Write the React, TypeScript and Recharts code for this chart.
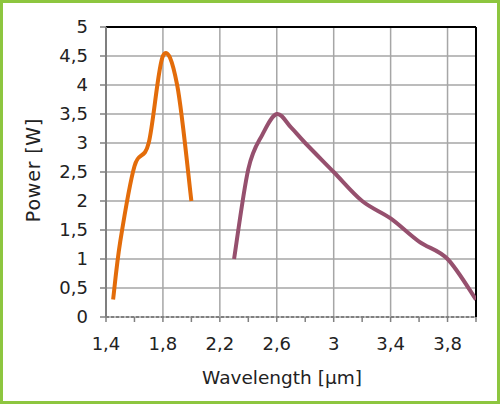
import React from 'react';
import { LineChart, Line, XAxis, YAxis, CartesianGrid, ReferenceLine } from 'recharts';

const orangeX = [1.45, 1.5, 1.6, 1.7, 1.8, 1.9, 2.0];
const orangeY = [0.3, 1.3, 2.6, 3.0, 4.5, 4.0, 2.0];
const purpleX = [2.3, 2.4, 2.5, 2.6, 2.7, 2.8, 3.0, 3.2, 3.4, 3.6, 3.8, 4.0];
const purpleY = [1.0, 2.55, 3.15, 3.5, 3.27, 3.0, 2.5, 2.0, 1.7, 1.3, 1.0, 0.3];
const xTicks = [1.4, 1.6, 1.8, 2.0, 2.2, 2.4, 2.6, 2.8, 3.0, 3.2, 3.4, 3.6, 3.8, 4.0];
const xLabelTicks = [1.4, 1.8, 2.2, 2.6, 3.0, 3.4, 3.8];
const yTicks = [0, 0.5, 1, 1.5, 2, 2.5, 3, 3.5, 4, 4.5, 5];

const orangeData = orangeX.map((x, i) => ({ x, y: orangeY[i] }));
const purpleData = purpleX.map((x, i) => ({ x, y: purpleY[i] }));

const FONT = 'DejaVu Sans';
const fmt = (v: number) => String(Math.round(v * 10) / 10).replace('.', ',');

// Excel-like smoothed line (uniform Catmull-Rom as cubic Bezier segments)
const smoothCurve = (context: any) => {
  let pts: number[][] = [];
  return {
    areaStart() {},
    areaEnd() {},
    lineStart() {
      pts = [];
    },
    point(x: number, y: number) {
      pts.push([+x, +y]);
    },
    lineEnd() {
      if (!pts.length) return;
      context.moveTo(pts[0][0], pts[0][1]);
      for (let i = 0; i < pts.length - 1; i++) {
        const p0 = pts[i - 1] || pts[i];
        const p1 = pts[i];
        const p2 = pts[i + 1];
        const p3 = pts[i + 2] || p2;
        context.bezierCurveTo(
          p1[0] + (p2[0] - p0[0]) / 6,
          p1[1] + (p2[1] - p0[1]) / 6,
          p2[0] - (p3[0] - p1[0]) / 6,
          p2[1] - (p3[1] - p1[1]) / 6,
          p2[0],
          p2[1]
        );
      }
    },
  };
};

const XTick = (props: any) => {
  const { x, y, payload } = props;
  const v = payload.value;
  if (!xLabelTicks.some((t) => Math.abs(t - v) < 1e-6)) return null;
  return (
    <text x={x} y={y} dy="0.71em" textAnchor="middle" fontFamily={FONT} fontSize={18} fill="#222">
      {fmt(v)}
    </text>
  );
};

const YTick = (props: any) => {
  const { x, y, payload } = props;
  return (
    <text x={x} y={y} dy="0.355em" textAnchor="end" fontFamily={FONT} fontSize={18} fill="#222">
      {fmt(payload.value)}
    </text>
  );
};

export default function App() {
  return (
    <div style={{ position: 'absolute', left: 0, top: 0, width: 500, height: 404, background: '#fff' }}>
      <div
        style={{
          position: 'absolute',
          left: 0,
          top: 0,
          width: 500,
          height: 404,
          boxSizing: 'border-box',
          border: '3px solid #8DC63F',
        }}
      />
      <div style={{ position: 'absolute', left: 0, top: 0 }}>
        <LineChart width={500} height={404} margin={{ top: 27, right: 24, bottom: 0, left: 0 }}>
          <CartesianGrid
            stroke="#a6a6a6"
            strokeWidth={1.5}
            verticalCoordinatesGenerator={({ offset }: any) =>
              xLabelTicks.map((v) => offset.left + ((v - 1.4) / 2.6) * offset.width)
            }
          />
          <XAxis
            type="number"
            dataKey="x"
            domain={[1.4, 4.0]}
            ticks={xTicks}
            interval={0}
            height={87}
            allowDataOverflow
            tick={<XTick />}
            tickSize={5}
            tickMargin={15}
            tickLine={{ stroke: '#808080', strokeWidth: 1.5 }}
            axisLine={{ stroke: '#808080', strokeWidth: 2, strokeDasharray: '3 2' }}
            label={{
              value: 'Wavelength [µm]',
              position: 'insideBottom',
              offset: 20,
              dx: -9,
              fontFamily: FONT,
              fontSize: 18.5,
              fill: '#222',
            }}
          />
          <YAxis
            type="number"
            dataKey="y"
            domain={[0, 5]}
            ticks={yTicks}
            interval={0}
            width={106}
            tick={<YTick />}
            tickSize={6}
            tickMargin={12}
            tickLine={{ stroke: '#808080', strokeWidth: 1.5 }}
            axisLine={{ stroke: '#7f7f7f', strokeWidth: 2 }}
            label={{
              content: ({ viewBox }: any) => {
                const cx = 33;
                const cy = viewBox.y + viewBox.height / 2 - 2;
                return (
                  <text
                    x={cx}
                    y={cy}
                    transform={`rotate(-90 ${cx} ${cy})`}
                    textAnchor="middle"
                    dy="0.355em"
                    fontFamily={FONT}
                    fontSize={19}
                    letterSpacing={0.8}
                    fill="#222"
                  >
                    Power [W]
                  </text>
                );
              },
            }}
          />
          <ReferenceLine y={5} stroke="#000" strokeWidth={2} />
          <ReferenceLine x={4} stroke="#000" strokeWidth={2} />
          <Line
            data={orangeData}
            dataKey="y"
            type={smoothCurve as any}
            stroke="#E36C0A"
            strokeWidth={4}
            dot={false}
            isAnimationActive={false}
          />
          <Line
            data={purpleData}
            dataKey="y"
            type={smoothCurve as any}
            stroke="#96506E"
            strokeWidth={4}
            dot={false}
            isAnimationActive={false}
          />
        </LineChart>
      </div>
    </div>
  );
}
